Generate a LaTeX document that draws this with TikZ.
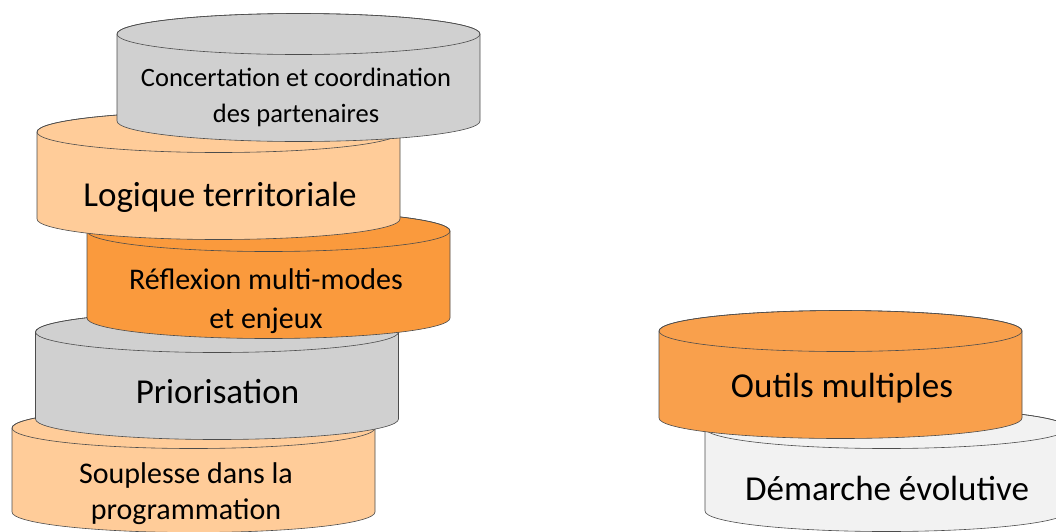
\documentclass[tikz,border=0pt]{standalone}
\usepackage{fontspec}
\setmainfont{Carlito}
\usepackage{tikz}

\definecolor{grisdisque}{HTML}{D0D0D0}
\definecolor{grisclair}{HTML}{F2F2F2}
\definecolor{orangeclair}{HTML}{FFCC99}
\definecolor{orangevif}{HTML}{FA9A3D}
\definecolor{orangeoutils}{HTML}{F9A04C}

\begin{document}
\begin{tikzpicture}[x=1pt,y=1pt,
		contour/.style={draw=black!70,line width=0.6pt,line join=round},
		pics/disque/.style 2 args={code={
			\filldraw[contour,fill=#1] (-181.5,0) -- (-181.5,-#2)
				arc[start angle=180,end angle=360,x radius=181.5,y radius=20.5]
				-- (181.5,0)
				arc[start angle=0,end angle=180,x radius=181.5,y radius=20.5] -- cycle;
			\draw[contour] (0,0) ellipse[x radius=181.5,y radius=20.5];
		}},
		texte/.style={align=center,inner sep=0pt,font=\fontsize{35}{42}\selectfont},
		moyen/.style={font=\fontsize{30}{39}\selectfont},
		petit/.style={font=\fontsize{26.5}{36}\selectfont}]
		\useasboundingbox (0,0) rectangle (1056,-531);
		\clip (0,0) rectangle (1056,-531);
		%
		% left stack, from the bottom up
		\pic (soup) at (193.5,-428) {disque={orangeclair}{84}};
		\pic (prio) at (217,-332) {disque={grisdisque}{87}};
		\pic (refl) at (268.5,-231) {disque={orangevif}{87}};
		\pic (logi) at (218.5,-132) {disque={orangeclair}{87}};
		\pic (conc) at (298.5,-34) {disque={grisdisque}{87}};
		% right stack
		\pic (dema) at (886.5,-428) {disque={grisclair}{83}};
		\pic (outi) at (840.5,-331) {disque={orangeoutils}{87}};
		%
		\node[texte,petit] (Tconc) at (296,-97) {Concertation et coordination\\des partenaires};
		\node[texte] (Tlogi) at (220,-197) {Logique territoriale};
		\node[texte,moyen] (Trefl) at (266,-301) {Réflexion multi-modes\\et enjeux};
		\node[texte] (Tprio) at (217.5,-392) {Priorisation};
		\node[texte,moyen,font=\fontsize{30}{36}\selectfont] (Tsoup) at (186,-494) {Souplesse dans la\\programmation};
		\node[texte] (Touti) at (842,-388) {Outils multiples};
		\node[texte] (Tdema) at (887,-488) {Démarche évolutive};
	\end{tikzpicture}
\end{document}
